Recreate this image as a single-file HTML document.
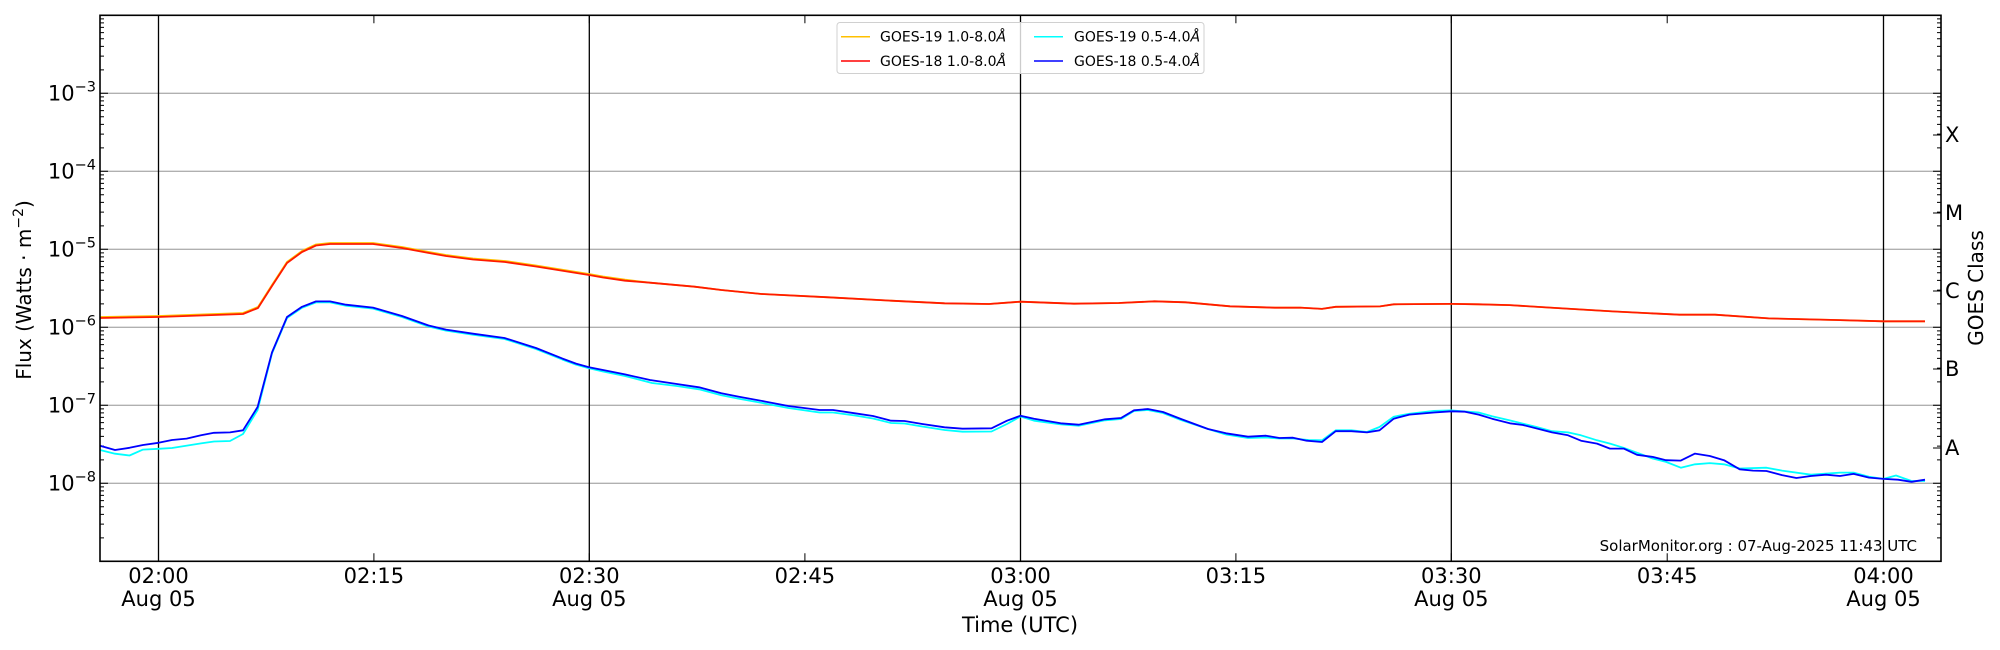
<!DOCTYPE html>
<html><head><meta charset="utf-8"><style>
html,body{margin:0;padding:0;background:#fff;}
svg{display:block;font-family:"DejaVu Sans","Liberation Sans",sans-serif;}
</style></head><body>
<svg width="2000" height="650" viewBox="0 0 2000 650" xmlns="http://www.w3.org/2000/svg">
<rect width="2000" height="650" fill="#fff"/>
<g stroke="#b0b0b0" stroke-width="1.3">
<line x1="100" x2="1941" y1="93.3" y2="93.3"/>
<line x1="100" x2="1941" y1="171.3" y2="171.3"/>
<line x1="100" x2="1941" y1="249.3" y2="249.3"/>
<line x1="100" x2="1941" y1="327.3" y2="327.3"/>
<line x1="100" x2="1941" y1="405.3" y2="405.3"/>
<line x1="100" x2="1941" y1="483.3" y2="483.3"/>
</g>
<g stroke="#000" stroke-width="1.3">
<line x1="158.5" x2="158.5" y1="15.3" y2="561.3"/>
<line x1="589.3" x2="589.3" y1="15.3" y2="561.3"/>
<line x1="1020.5" x2="1020.5" y1="15.3" y2="561.3"/>
<line x1="1451.3" x2="1451.3" y1="15.3" y2="561.3"/>
<line x1="1883.5" x2="1883.5" y1="15.3" y2="561.3"/>
</g>
<!-- ticks -->
<g stroke="#000" stroke-width="1" fill="none">
<path d="M100 93.3h8M100 171.3h8M100 249.3h8M100 327.3h8M100 405.3h8M100 483.3h8
M1941 93.3h-8M1941 171.3h-8M1941 249.3h-8M1941 327.3h-8M1941 405.3h-8M1941 483.3h-8
M1941 135h-8M1941 213h-8M1941 291h-8M1941 369h-8M1941 448h-8"/>
<path id="mt" d="M100 69.82h4M100 56.08h4M100 46.34h4M100 38.78h4M100 32.6h4M100 27.38h4M100 22.86h4M100 18.87h4
M100 147.82h4M100 134.08h4M100 124.34h4M100 116.78h4M100 110.6h4M100 105.38h4M100 100.86h4M100 96.87h4
M100 225.82h4M100 212.08h4M100 202.34h4M100 194.78h4M100 188.6h4M100 183.38h4M100 178.86h4M100 174.87h4
M100 303.82h4M100 290.08h4M100 280.34h4M100 272.78h4M100 266.6h4M100 261.38h4M100 256.86h4M100 252.87h4
M100 381.82h4M100 368.08h4M100 358.34h4M100 350.78h4M100 344.6h4M100 339.38h4M100 334.86h4M100 330.87h4
M100 459.82h4M100 446.08h4M100 436.34h4M100 428.78h4M100 422.6h4M100 417.38h4M100 412.86h4M100 408.87h4
M100 537.82h4M100 524.08h4M100 514.34h4M100 506.78h4M100 500.6h4M100 495.38h4M100 490.86h4M100 486.87h4"/>
<path transform="translate(2041,0) scale(-1,1)" d="M100 69.82h4M100 56.08h4M100 46.34h4M100 38.78h4M100 32.6h4M100 27.38h4M100 22.86h4M100 18.87h4
M100 147.82h4M100 134.08h4M100 124.34h4M100 116.78h4M100 110.6h4M100 105.38h4M100 100.86h4M100 96.87h4
M100 225.82h4M100 212.08h4M100 202.34h4M100 194.78h4M100 188.6h4M100 183.38h4M100 178.86h4M100 174.87h4
M100 303.82h4M100 290.08h4M100 280.34h4M100 272.78h4M100 266.6h4M100 261.38h4M100 256.86h4M100 252.87h4
M100 381.82h4M100 368.08h4M100 358.34h4M100 350.78h4M100 344.6h4M100 339.38h4M100 334.86h4M100 330.87h4
M100 459.82h4M100 446.08h4M100 436.34h4M100 428.78h4M100 422.6h4M100 417.38h4M100 412.86h4M100 408.87h4
M100 537.82h4M100 524.08h4M100 514.34h4M100 506.78h4M100 500.6h4M100 495.38h4M100 490.86h4M100 486.87h4"/>
<path d="M158.5 561.3v-8M373.9 561.3v-8M589.3 561.3v-8M804.9 561.3v-8M1020.5 561.3v-8M1235.9 561.3v-8M1451.3 561.3v-8M1667.2 561.3v-8M1883.5 561.3v-8
M158.5 15.3v8M373.9 15.3v8M589.3 15.3v8M804.9 15.3v8M1020.5 15.3v8M1235.9 15.3v8M1451.3 15.3v8M1667.2 15.3v8M1883.5 15.3v8"/>
</g>
<g fill="none" stroke-width="1.8" stroke-linejoin="round">
<polyline stroke="#ffc000" points="100,317 158,316 243,313 258,307 272,285 287,262 302,251 316,244.5 330,243 373,243 402,247 429,252 446,255 473,258.5 505,261 536,265.5 589,274 603,276.5 625,279.7 650,282.7 694.6,286.7 721.4,290 761.6,294 828.6,297.3 891,300.7 944.6,303.3 989,304 1020.5,301.7 1074,303.7 1118.75,303 1154.5,301.3 1185.7,302.3 1230,306.3 1275,307.7 1300,307.6 1322,308.9 1335.7,306.8 1380,306.4 1393.75,304.3 1451.3,303.9 1478.6,304.3 1509.8,305.1 1550,307.6 1612.5,311.4 1679.5,314.7 1715,314.7 1768.75,318.4 1835.7,320 1883.5,321.3 1925,321.3"/>
<polyline stroke="#ff1a00" points="100,318 158,317 243,314 258,308 272,286 287,263 302,252 316,245.5 330,244 373,244 402,248 429,253 446,256 473,259.5 505,262 536,266.5 589,275 603,277.5 625,280.7 650,282.7 694.6,286.7 721.4,290 761.6,294 828.6,297.3 891,300.7 944.6,303.3 989,304 1020.5,301.7 1074,303.7 1118.75,303 1154.5,301.3 1185.7,302.3 1230,306.3 1275,307.7 1300,307.6 1322,308.9 1335.7,306.8 1380,306.4 1393.75,304.3 1451.3,303.9 1478.6,304.3 1509.8,305.1 1550,307.6 1612.5,311.4 1679.5,314.7 1715,314.7 1768.75,318.4 1835.7,320 1883.5,321.3 1925,321.3"/>
<polyline stroke="#00ffff" points="100,450 115,453.7 129.5,455.5 143,449.6 158.5,448.8 172,448 201,443.4 214,441.5 230,441 243,434 257.6,410 272,353.4 287,318 302,307.8 316,302.4 330,302.4 346,305.7 373,308.6 402,317 428.6,326.5 446,330.6 473,334.7 504.5,339 536,349 562.5,359.6 576,364.6 589,368.3 603,371.5 625,376 652,383 676.8,386 699,389.3 721.4,395.3 739,398.7 766,403.7 788.4,408 819.6,412.5 833,412.5 855,415.5 873,418.5 891,423 904.5,423.5 922.3,426.5 944.6,430 962.5,431.7 991.5,431.5 1007,424 1020.5,416.5 1034,420.7 1060.7,424.3 1078.6,425.7 1105,420.3 1121,419 1134,411 1147.8,410 1163,413 1181,420 1208,429 1226,434.5 1248,438 1266,437.5 1279.5,438.5 1293,438.5 1308.5,440 1322,440.3 1335.7,430.3 1351.3,430.3 1367,432 1379.5,427 1393.75,416.7 1409.4,413.8 1434,410.9 1451.3,410.4 1478.6,412.5 1492,416.3 1509.8,420.4 1536.6,427 1552,431.2 1568,432.4 1581,435.3 1597,440.3 1610,443.6 1623.7,447.8 1637,452.7 1652.7,458.5 1666,461.9 1680.8,467.7 1695,464.3 1709.8,463.1 1724,464.3 1739.7,468.5 1766.5,467.7 1782,470.6 1811,474.7 1840,472.6 1853.6,472.6 1869,476.8 1883.5,478.9 1896,475.5 1911.6,481 1925,481"/>
<polyline stroke="#0000ff" points="100,445.7 115,450 129.5,447.8 143,445 158.5,442.8 172,440 186.6,438.6 201,435.3 214,432.8 230,432.4 243,430.3 257.6,407 272,352.4 287,317 302,306.8 316,301.4 330,301.4 346,304.7 373,307.6 402,316 428.6,325.5 446,329.6 473,333.7 504.5,338 536,348 562.5,358.6 576,363.6 589,367.3 603,370 625,374.4 650,380 676.8,384 699,387.3 721.4,393.3 739,396.7 766,401.7 788.4,406 819.6,410 833,410 855,413.3 873,416 891,420.7 904.5,421 922.3,424 944.6,427.3 962.5,428.7 991.5,428.3 1007,420.7 1020.5,415.7 1034,418.7 1060.7,423.3 1078.6,424.7 1105,419.3 1121,418 1134,410.3 1147.8,409 1163,412 1181,419 1208,429 1226,433.3 1248,436.7 1266,435.7 1279.5,438 1293,437.7 1306.7,440.7 1322,442 1335.7,431.2 1351.3,431.2 1367,432.4 1379.5,430.3 1393.75,418.7 1409.4,414.6 1434,412.5 1451.3,411.3 1465,411.7 1478.6,414.6 1492,418.7 1509.8,423.3 1523,425 1552,432.4 1568,435.3 1581,440.7 1597,443.6 1610,448.6 1623.7,448.6 1637,454.8 1652.7,456.9 1666,460.2 1680.8,460.6 1695,453.6 1709.8,456 1724,460.2 1739.7,469.3 1753,470.6 1766.5,471 1782,475.1 1796.4,478 1811,476 1826,474.7 1840,476 1853.6,473.9 1869,477.6 1883.5,478.9 1898,479.7 1911.6,481.8 1925,479.7"/>
</g>
<rect x="100" y="15.3" width="1841" height="546" fill="none" stroke="#000" stroke-width="1.6"/>
<rect x="837" y="22.5" width="367" height="51" rx="3" fill="#fff" fill-opacity="0.8" stroke="#d0d0d0" stroke-width="1"/>
<g stroke-width="1.5">
<line x1="841" x2="870" y1="36.7" y2="36.7" stroke="#ffc000"/>
<line x1="841" x2="870" y1="61" y2="61" stroke="#ff0000"/>
<line x1="1034" x2="1063" y1="36.7" y2="36.7" stroke="#00ffff"/>
<line x1="1034" x2="1063" y1="61" y2="61" stroke="#0000ff"/>
</g>
<g font-size="14" fill="#000">
<text x="880" y="41.5">GOES-19 1.0-8.0<tspan font-style="italic">Å</tspan></text>
<text x="880" y="66">GOES-18 1.0-8.0<tspan font-style="italic">Å</tspan></text>
<text x="1074" y="41.5">GOES-19 0.5-4.0<tspan font-style="italic">Å</tspan></text>
<text x="1074" y="66">GOES-18 0.5-4.0<tspan font-style="italic">Å</tspan></text>
</g>
<g font-size="21" fill="#000" text-anchor="end">
<text x="96" y="100.5">10<tspan font-size="14.5" dy="-9">−3</tspan></text>
<text x="96" y="178.5">10<tspan font-size="14.5" dy="-9">−4</tspan></text>
<text x="96" y="256.5">10<tspan font-size="14.5" dy="-9">−5</tspan></text>
<text x="96" y="334.5">10<tspan font-size="14.5" dy="-9">−6</tspan></text>
<text x="96" y="412.5">10<tspan font-size="14.5" dy="-9">−7</tspan></text>
<text x="96" y="490.5">10<tspan font-size="14.5" dy="-9">−8</tspan></text>
</g>
<text transform="translate(31,290) rotate(-90)" font-size="20" text-anchor="middle">Flux (Watts · m<tspan font-size="14" dy="-8">−2</tspan><tspan dy="8">)</tspan></text>
<g font-size="21" fill="#000">
<text x="1945" y="142">X</text>
<text x="1945" y="220">M</text>
<text x="1945" y="298">C</text>
<text x="1945" y="376">B</text>
<text x="1945" y="455">A</text>
</g>
<text transform="translate(1983,288) rotate(-90)" font-size="20" text-anchor="middle">GOES Class</text>
<g font-size="21" fill="#000" text-anchor="middle">
<text x="158.5" y="583">02:00</text><text x="158.5" y="606">Aug 05</text>
<text x="373.9" y="583">02:15</text>
<text x="589.3" y="583">02:30</text><text x="589.3" y="606">Aug 05</text>
<text x="804.9" y="583">02:45</text>
<text x="1020.5" y="583">03:00</text><text x="1020.5" y="606">Aug 05</text>
<text x="1235.9" y="583">03:15</text>
<text x="1451.3" y="583">03:30</text><text x="1451.3" y="606">Aug 05</text>
<text x="1667.2" y="583">03:45</text>
<text x="1883.5" y="583">04:00</text><text x="1883.5" y="606">Aug 05</text>
<text x="1020" y="632">Time (UTC)</text>
</g>
<text x="1917" y="551" font-size="15" text-anchor="end">SolarMonitor.org : 07-Aug-2025 11:43 UTC</text>
</svg>
</body></html>
